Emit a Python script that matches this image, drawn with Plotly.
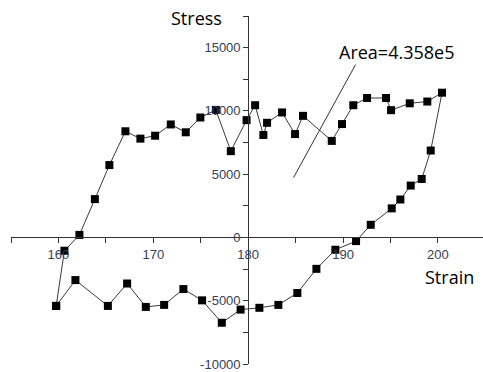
import plotly.graph_objects as go

# Lower branch (left to right)
lower_strain = [159.76, 161.79, 165.21, 167.24, 169.21, 171.14, 173.17, 175.14, 177.22, 179.2,
                181.18, 183.18, 185.18, 187.19, 189.19, 191.37, 192.92, 195.13, 196.04, 197.13,
                198.29, 199.24]
lower_stress = [-5410, -3370, -5410, -3640, -5490, -5330, -4080, -4970, -6740, -5700,
                -5560, -5330, -4390, -2480, -970, -290, 1000, 2300, 3000, 4100,
                4620, 6870]
# Upper branch (right to left)
upper_strain = [200.43, 198.88, 197.03, 195.06, 194.53, 192.53, 191.08, 189.89, 188.81, 185.78,
                184.94, 183.57, 181.99, 181.60, 180.73, 179.83, 178.17, 176.59, 174.96, 173.42,
                171.84, 170.19, 168.64, 167.06, 165.37, 163.84, 162.21, 160.63]
upper_stress = [11440, 10740, 10600, 10060, 11020, 11020, 10450, 8960, 7630, 9610,
                8170, 9880, 9060, 8100, 10450, 9270, 6820, 10080, 9480, 8310,
                8930, 8040, 7810, 8390, 5720, 3030, 200, -1050]

x_ticks = [160, 170, 180, 190, 200]
y_ticks = [-10000, -5000, 0, 5000, 10000, 15000]
area_label = "Area=4.358e5"

xs = lower_strain + upper_strain + [lower_strain[0]]
ys = lower_stress + upper_stress + [lower_stress[0]]

fig = go.Figure()
fig.add_trace(go.Scatter(
    x=xs, y=ys, mode="lines+markers",
    line=dict(color="#3a3a3a", width=1),
    marker=dict(symbol="square", size=8, color="black"),
    showlegend=False,
))

xr = [155, 204.75]
yr = [-10000, 17500]
tickfont = dict(family="Liberation Sans, Arial", size=13, color="#34405a")

fig.update_layout(
    width=483, height=372,
    margin=dict(l=11, r=0, t=16, b=5),
    paper_bgcolor="white", plot_bgcolor="white",
    xaxis=dict(
        range=xr, domain=[0, 1], anchor="free", position=(0 - yr[0]) / (yr[1] - yr[0]),
        showgrid=False, zeroline=False, showline=True, linecolor="#333", linewidth=1,
        tickvals=x_ticks, ticktext=[str(v) for v in x_ticks],
        ticks="outside", ticklen=5, tickcolor="#333", tickfont=tickfont,
        ticklabeloverflow="allow",
        minor=dict(ticks="outside", ticklen=5, dtick=5, tick0=155, tickcolor="#333"),
    ),
    yaxis=dict(
        range=yr, domain=[0, 1], anchor="free", position=(180 - xr[0]) / (xr[1] - xr[0]),
        showgrid=False, zeroline=False, showline=True, linecolor="#333", linewidth=1,
        tickvals=y_ticks, ticktext=[str(v) for v in y_ticks],
        ticks="outside", ticklen=5, tickcolor="#333", tickfont=tickfont,
        ticklabeloverflow="allow",
        minor=dict(ticks="outside", ticklen=5, dtick=2500, tick0=0, tickcolor="#333"),
    ),
    font=dict(family="Open Sans, Noto Sans", size=18, color="black"),
)

fig.add_annotation(x=174.6, y=17350, text="Stress", showarrow=False,
                   xref="x", yref="y", font=dict(size=18, family="Open Sans", color="black"))
fig.add_annotation(x=201.17, y=-3110, text="Strain", showarrow=False,
                   xref="x", yref="y", font=dict(size=18, family="Open Sans", color="black"))
fig.add_annotation(x=195.58, y=14680, text=area_label, showarrow=False,
                   xref="x", yref="y", font=dict(size=18, family="Open Sans", color="black"))
fig.add_shape(type="line", x0=191.32, y0=13660, x1=184.78, y1=4730,
              xref="x", yref="y", line=dict(color="#333", width=1))

fig.write_html("out.html", config={"displayModeBar": False},
               post_script="document.body.style.margin='0';")
